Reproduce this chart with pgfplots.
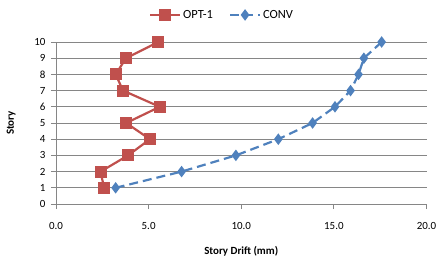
\documentclass[border=0pt]{standalone}
\usepackage{pgfplots}
\pgfplotsset{compat=1.18}
\usepackage{fontspec}
\setmainfont{Carlito}
\definecolor{optred}{RGB}{192,80,77}
\definecolor{convblue}{RGB}{79,129,189}
\definecolor{gridgray}{RGB}{134,134,134}
\begin{document}
\begin{tikzpicture}
\useasboundingbox (-56bp,-53bp) rectangle (383bp,204bp);
\begin{axis}[
  at={(0,0)}, anchor=south west,
  scale only axis,
  width=370.5bp, height=162bp,
  xmin=0, xmax=20, ymin=0, ymax=10,
  xtick={0,5,10,15,20},
  ytick={0,1,...,10},
  axis lines*=left,
  axis line style={gridgray, line width=0.8pt},
  tick style={gridgray, line width=0.8pt},
  tick align=outside,
  major tick length=5bp,
  ymajorgrids,
  grid style={gridgray, line width=0.8pt},
  /pgf/number format/assume math mode=true,
  xticklabel style={/pgf/number format/fixed, /pgf/number format/fixed zerofill, /pgf/number format/precision=1, font=\fontsize{11}{13}\selectfont, yshift=-10bp},
  yticklabel style={font=\fontsize{11}{13}\selectfont, xshift=-2bp},
  xlabel={\textbf{Story Drift (mm)}},
  ylabel={\textbf{Story}},
  xlabel style={font=\fontsize{11}{13}\selectfont, at={(axis description cs:0.5,0)}, anchor=north, yshift=-39bp},
  ylabel style={font=\fontsize{11}{13}\selectfont, at={(axis description cs:0,0.5)}, anchor=south, yshift=37bp},
  legend columns=2,
  legend style={draw=none, fill=none, at={(axis description cs:0.448,1.167)}, anchor=center, font=\fontsize{12.5}{14}\selectfont, /tikz/every even column/.append style={column sep=14bp}},
  legend image code/.code={\draw[#1] (0bp,0bp) -- (30bp,0bp); \draw[#1, mark repeat=2, mark phase=2] plot coordinates {(0bp,0bp) (15bp,0bp) (30bp,0bp)};},
  clip=false,
]
\addplot[optred, line width=2.2pt, mark=square*, mark size=5bp, mark options={solid}] coordinates {
(2.59,1) (2.41,2) (3.89,3) (5.07,4) (3.79,5) (5.60,6) (3.62,7) (3.22,8) (3.78,9) (5.52,10)
};
\addlegendentry{OPT-1}
\addplot[convblue, line width=2.2pt, dash pattern=on 9bp off 5bp, mark=diamond*, mark size=4bp, mark options={solid}] coordinates {
(3.22,1) (6.78,2) (9.71,3) (12.0,4) (13.85,5) (15.06,6) (15.9,7) (16.33,8) (16.62,9) (17.58,10)
};
\addlegendentry{CONV}
\end{axis}
\end{tikzpicture}
\end{document}
